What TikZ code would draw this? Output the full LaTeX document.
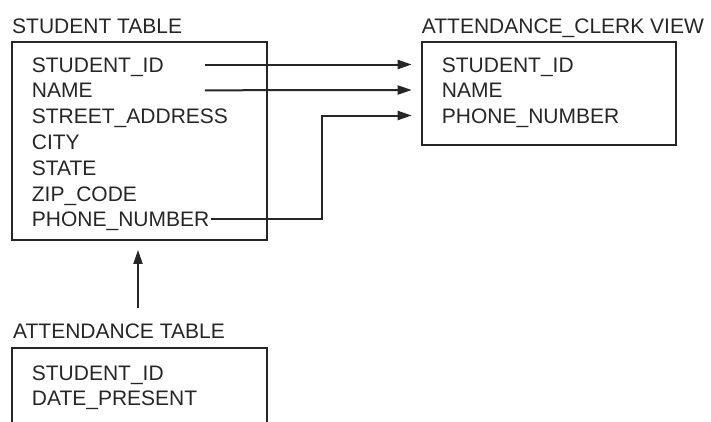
\documentclass[tikz,border=0pt]{standalone}
\usepackage{fontspec}
\setmainfont{Liberation Sans}
\usetikzlibrary{arrows.meta}

\tikzset{
  field/.style={anchor=base west, inner sep=0pt, text height=15pt, text depth=0pt,
                font=\fontsize{21}{25}\selectfont, text=black!85},
  tablebox/.style={draw=black!85, line width=2pt, inner sep=0pt},
  link/.style={draw=black!85, line width=2pt, -{Triangle[length=14pt,width=9pt]}}
}

\begin{document}
\begin{tikzpicture}[x=1pt, y=-1pt]
    \useasboundingbox (0,0) rectangle (711,421);
    \clip (0,0) rectangle (711,421);

    % Student table
    \node[field] (stitle) at (12,33) {STUDENT TABLE};
    \node[tablebox, minimum width=254.7pt, minimum height=198.3pt] (student) at (139.3,140.8) {};
    \node[field] (sid)     at (31.7,72)    {STUDENT\_ID};
    \node[field] (sname)   at (31.7,97.8)  {NAME};
    \node[field] (sstreet) at (31.7,123.6) {STREET\_ADDRESS};
    \node[field] (scity)   at (31.7,149.4) {CITY};
    \node[field] (sstate)  at (31.7,175.2) {STATE};
    \node[field] (szip)    at (31.7,201)   {ZIP\_CODE};
    \node[field] (sphone)  at (31.7,226.8) {PHONE\_NUMBER};

    % Attendance clerk view
    \node[field] (vtitle) at (421.7,33) {ATTENDANCE\_CLERK VIEW};
    \node[tablebox, minimum width=254.3pt, minimum height=103.3pt] (view) at (548.9,93.3) {};
    \node[field] (vid)    at (441.7,72)   {STUDENT\_ID};
    \node[field] (vname)  at (441.7,97.5) {NAME};
    \node[field] (vphone) at (441.7,123)  {PHONE\_NUMBER};

    % Attendance table (runs off the bottom)
    \node[field] (atitle) at (13,338) {ATTENDANCE TABLE};
    \node[tablebox, minimum width=254.7pt, minimum height=100pt] (attend) at (139.3,398.3) {};
    \node[field] (aid)   at (31.7,380)   {STUDENT\_ID};
    \node[field] (adate) at (31.7,405.5) {DATE\_PRESENT};

    % Links
    \draw[link] ([xshift=41pt]sid.east) -- ([xshift=-30pt]vid.west);
    \draw[link] ([xshift=41pt]sid.east |- sname.east) -- ([xshift=-30pt]vname.west);
    \draw[link] ([xshift=2pt]sphone.east) -- ++(111pt,0) |- ([xshift=-30pt]vphone.west);
    \coordinate (atail) at (138,308);
    \draw[link] (atail) -- ([yshift=-9pt]student.south -| atail);

\end{tikzpicture}
\end{document}
